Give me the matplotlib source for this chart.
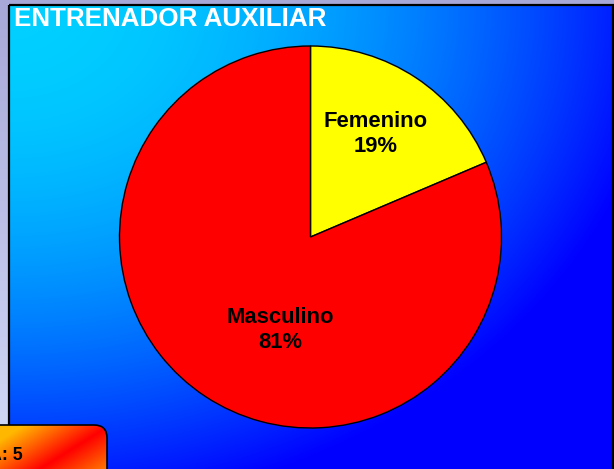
import numpy as np
import matplotlib
matplotlib.use("Agg")
import matplotlib.pyplot as plt
from matplotlib.patches import Rectangle, FancyBboxPatch

# ---- data ----
title = "ENTRENADOR AUXILIAR"
categories = ["Femenino", "Masculino"]
percentages = [18.6, 81.4]
colors = ["#ffff00", "#ff0000"]
sample_label = "A: 5"

W, H = 614, 469
fig = plt.figure(figsize=(W / 100, H / 100), dpi=100)
ax = fig.add_axes([0, 0, 1, 1])

# outer lavender background (vertical gradient)
yy = np.linspace(0, 1, 200)[:, None]
top = np.array([168, 168, 216]) / 255
bot = np.array([210, 218, 248]) / 255
bg = top[None, None, :] * (1 - yy[..., None]) + bot[None, None, :] * yy[..., None]
bg = np.repeat(bg, 2, axis=1)
ax.imshow(bg, extent=[0, W, H, 0], origin="upper", aspect="auto", zorder=0)

# plot area gradient (radial from top-left, cyan -> blue)
fx0, fy0, fx1, fy1 = 9, 5, 613, 475
nx, ny = 400, 320
u = np.linspace(0, 1, nx)[None, :]
v = np.linspace(0, 1, ny)[:, None]
f = np.clip(1 - 0.85 * (u ** 2 + v ** 2), 0, 1)
img = np.zeros((ny, nx, 3))
img[..., 1] = (208 / 255) * f
img[..., 2] = 1.0
ax.imshow(img, extent=[fx0, fx1, fy1, fy0], origin="upper", aspect="auto", zorder=1)
ax.add_patch(Rectangle((fx0, fy0), fx1 - fx0, fy1 - fy0, fill=False,
                       edgecolor="black", lw=1.6, zorder=2))

# title
ax.text(14, 7, title, color="white", fontsize=18.7, fontweight="bold",
        family="Liberation Sans", ha="left", va="top", zorder=5)

# pie
cx, cy, r = 310.5, 237, 191
wedges, _ = ax.pie(percentages, colors=colors, startangle=-90, counterclock=True,
                   center=(cx, cy), radius=r,
                   wedgeprops=dict(edgecolor="black", linewidth=1.0))
for w in wedges:
    w.set_zorder(3)

label_pos = [(376, 134), (280, 330)]
for (lx, ly), cat, p in zip(label_pos, categories, percentages):
    ax.text(lx, ly, f"{cat}\n{round(p)}%", ha="center", va="center", fontsize=15.8,
            fontweight="bold", family="Liberation Sans", color="black",
            linespacing=1.3, zorder=5)

# bottom-left orange box with diagonal gradient
bx0, by0, bx1, by1 = -20, 425, 107, 490
gx = np.linspace(bx0, bx1, 160)[None, :]
gy = np.linspace(by0, by1, 90)[:, None]
p1 = np.array([40, 469.0]); p2 = np.array([107, 428.0])
d = p2 - p1
nrm = np.array([-d[1], d[0]]) / np.hypot(*d)
dist = (gx - p1[0]) * nrm[0] + (gy - p1[1]) * nrm[1]
s = np.clip(np.abs(dist) / 45, 0, 1)
red = np.array([1.0, 0.0, 0.0])
orange_a = np.array([1.0, 0.72, 0.0])
orange_b = np.array([1.0, 0.6, 0.0])
side = (dist < 0)[..., None]
far = np.where(side, orange_a, orange_b)
box_img = red * (1 - s[..., None]) + far * s[..., None]
im = ax.imshow(box_img, extent=[bx0, bx1, by1, by0], origin="upper",
               aspect="auto", zorder=6)
box = FancyBboxPatch((bx0, by0), bx1 - bx0, by1 - by0,
                     boxstyle="round,pad=0,rounding_size=13",
                     facecolor="none", edgecolor="black", lw=1.2, zorder=7)
ax.add_patch(box)
im.set_clip_path(box)
ax.text(23, 459.5, sample_label, ha="right", va="baseline", fontsize=12.8,
        fontweight="bold", family="Liberation Sans", color="black", zorder=8)

ax.set_xlim(0, W)
ax.set_ylim(H, 0)
ax.set_aspect("auto")
ax.axis("off")
fig.savefig("out.png", dpi=100)
